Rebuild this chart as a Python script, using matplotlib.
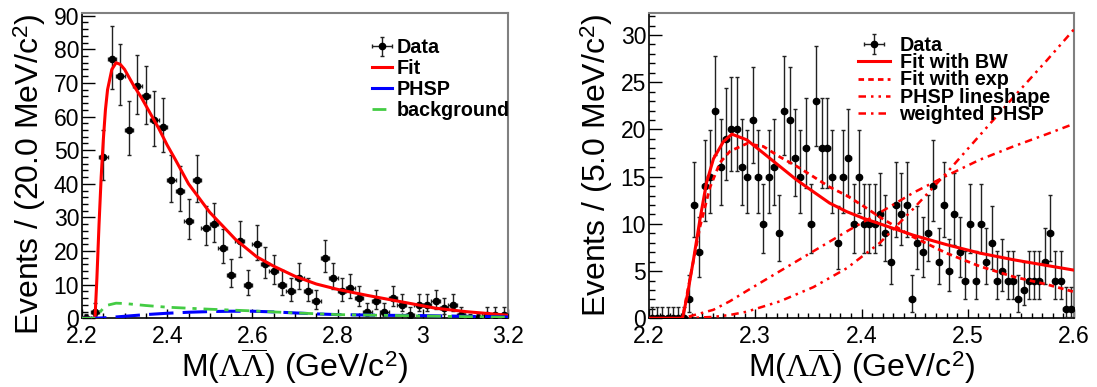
import math
import numpy as np
import matplotlib
matplotlib.use("Agg")
import matplotlib.pyplot as plt
from matplotlib.ticker import MultipleLocator, FuncFormatter

plt.rcParams['font.family'] = ['Liberation Sans', 'DejaVu Sans']
plt.rcParams['mathtext.fontset'] = 'custom'
plt.rcParams['mathtext.rm'] = 'Liberation Serif'
plt.rcParams['mathtext.sf'] = 'Liberation Sans'
plt.rcParams['mathtext.it'] = 'Liberation Serif:italic'

# ---------------- data: left panel (20 MeV bins, 2.2 - 3.2) ----------------
left_edges = (2.2, 3.2)
left_counts = [0, 2, 48, 77, 72, 56, 69, 66, 59, 57,
               41, 38, 29, 41, 27, 28, 21, 13, 23, 10,
               22, 16, 14, 10, 8, 12, 8, 5, 18, 12,
               8, 9, 6, 2, 5, 2, 6, 4, 1, 4,
               4, 5, 3, 4, 1, 0, 0, 1, 1, 1]

fit_x = [2.2, 2.2305, 2.235, 2.24, 2.245, 2.25, 2.255, 2.26, 2.27, 2.28, 2.29, 2.30,
         2.32, 2.34, 2.36, 2.38, 2.40, 2.42, 2.45, 2.50, 2.53, 2.56, 2.61, 2.65,
         2.70, 2.75, 2.80, 2.87, 2.95, 3.03, 3.10, 3.2]
fit_y = [0, 0, 12, 28, 42, 53, 62, 68, 74, 76, 75.5, 74,
         69.5, 65.5, 61, 56.5, 51.5, 47, 40, 31.5, 27.5, 23.5, 18.3, 15.5,
         12.5, 10.2, 8.6, 6.8, 4.9, 3.0, 2.0, 0.9]

bkg_x = [2.2, 2.231, 2.24, 2.25, 2.26, 2.28, 2.30, 2.35, 2.40, 2.50, 2.60, 2.70,
         2.80, 2.90, 3.0, 3.1, 3.2]
bkg_y = [0, 0, 1.5, 3.0, 3.9, 4.5, 4.4, 3.8, 3.3, 2.7, 2.2, 1.6,
         1.1, 0.9, 0.7, 0.5, 0.3]

phsp_x = [2.2, 2.231, 2.26, 2.30, 2.35, 2.40, 2.45, 2.50, 2.55, 2.60, 2.65, 2.70,
          2.75, 2.80, 2.90, 3.0, 3.1, 3.2]
phsp_y = [0, 0, 0.2, 0.6, 1.1, 1.5, 1.8, 2.0, 2.1, 2.1, 1.9, 1.6,
          1.3, 1.1, 0.9, 0.8, 0.6, 0.4]

# ---------------- data: right panel (5 MeV bins, 2.2 - 2.6) ----------------
right_edges = (2.2, 2.6)
right_counts = [0, 0, 0, 0, 0, 0, 0, 2, 12, 7,
                14, 15, 22, 16, 19, 20, 20, 16, 15, 21,
                15, 10, 15, 16, 9, 22, 21, 17, 15, 18,
                10, 23, 18, 18, 15, 8, 15, 17, 10, 15,
                10, 10, 10, 11, 9, 6, 12, 11, 12, 2,
                8, 7, 9, 14, 6, 12, 5, 11, 7, 4,
                10, 4, 10, 6, 8, 4, 5, 4, 4, 2,
                3, 4, 4, 4, 6, 9, 4, 4, 1, 1]

bw_x = [2.2, 2.2315, 2.236, 2.242, 2.248, 2.254, 2.2607, 2.27, 2.278, 2.292, 2.3076,
        2.323, 2.339, 2.3547, 2.370, 2.386, 2.4016, 2.4174, 2.4488, 2.480, 2.5115,
        2.543, 2.574, 2.6]
bw_y = [0, 0, 2.4, 6.3, 10.5, 14.3, 16.9, 18.7, 19.5, 18.9, 17.5,
        16.1, 14.65, 13.4, 12.2, 11.3, 10.6, 10.0, 8.8, 7.8, 6.9,
        6.2, 5.6, 5.1]

exp_x = [2.2, 2.2315, 2.2355, 2.248, 2.2575, 2.2669, 2.2763, 2.292, 2.3076, 2.323,
         2.339, 2.3547, 2.370, 2.386, 2.4016, 2.4174, 2.4488, 2.480, 2.5115, 2.543,
         2.574, 2.6]
exp_y = [0, 0, 2.4, 9.7, 13.9, 16.5, 17.7, 18.5, 18.2, 17.1,
         16.1, 15.0, 13.9, 13.0, 11.9, 10.7, 8.6, 6.9, 5.5, 4.4,
         3.6, 2.8]

ls_x = [2.2, 2.2315, 2.2606, 2.276, 2.292, 2.3233, 2.3547, 2.3861, 2.4174, 2.4488,
        2.4801, 2.5115, 2.5429, 2.5743, 2.6]
ls_y = [0, 0, 0.15, 0.35, 0.7, 1.8, 3.3, 5.3, 8.0, 11.6,
        15.4, 19.4, 23.4, 27.3, 30.6]

wp_x = [2.2, 2.2315, 2.2606, 2.276, 2.292, 2.3233, 2.3547, 2.3861, 2.4174, 2.4488,
        2.4801, 2.5115, 2.5429, 2.5743, 2.6]
wp_y = [0, 0, 0.9, 1.8, 2.9, 5.0, 7.1, 9.2, 11.2, 13.3,
        15.1, 16.8, 18.2, 19.5, 20.6]


def pois_cdf(k, lam):
    if k < 0:
        return 0.0
    term = math.exp(-lam)
    s = term
    for i in range(1, k + 1):
        term *= lam / i
        s += term
    return s


def solve(f, target, lo, hi, decreasing=True):
    for _ in range(100):
        mid = 0.5 * (lo + hi)
        v = f(mid)
        if (v > target) == decreasing:
            lo = mid
        else:
            hi = mid
    return 0.5 * (lo + hi)


def poisson_errors(counts):
    a = 0.158655
    lo, hi = [], []
    for n in counts:
        if n == 0:
            lo.append(0.0)
            hi.append(1.148)
            continue
        up = solve(lambda l: pois_cdf(n, l), a, 0, n + 20 + 5 * math.sqrt(n))
        dn = solve(lambda l: pois_cdf(n - 1, l), 1 - a, 0, n + 5)
        lo.append(n - dn)
        hi.append(up - n)
    return [lo, hi]


fig = plt.figure(figsize=(10.97, 3.87), dpi=100)
W, H = 1097.0, 387.0
axL = fig.add_axes([82 / W, (H - 318.3) / H, 426 / W, 305 / H])
axR = fig.add_axes([649 / W, (H - 318.3) / H, 425 / W, 305 / H])

fmt = FuncFormatter(lambda v, p: f"{v:g}")


def style(ax, xmaj, xmin, ymaj, ymin):
    ax.xaxis.set_major_locator(MultipleLocator(xmaj))
    ax.xaxis.set_minor_locator(MultipleLocator(xmin))
    ax.yaxis.set_major_locator(MultipleLocator(ymaj))
    ax.yaxis.set_minor_locator(MultipleLocator(ymin))
    ax.xaxis.set_major_formatter(fmt)
    ax.yaxis.set_major_formatter(fmt)
    ax.tick_params(direction='in', top=False, right=False, which='both', width=1, labelsize=16.5)
    ax.tick_params(axis='y', which='major', length=9.2, pad=2)
    ax.tick_params(axis='y', which='minor', length=4.6)
    ax.tick_params(axis='x', which='major', length=6.6, pad=5)
    ax.tick_params(axis='x', which='minor', length=3.3)
    for s in ('top', 'right'):
        ax.spines[s].set_color('#808080')
        ax.spines[s].set_linewidth(1.5)
    for s in ('left', 'bottom'):
        ax.spines[s].set_color('black')
        ax.spines[s].set_linewidth(1.2)


def draw_hist(ax, counts, rng):
    n = len(counts)
    w = (rng[1] - rng[0]) / n
    centers = rng[0] + w * (np.arange(n) + 0.5)
    err = poisson_errors(counts)
    return ax.errorbar(centers, counts, yerr=err, xerr=w / 2, fmt='o', ms=4.5,
                       color='black', ecolor='#222222', elinewidth=1.0,
                       capsize=1.5, capthick=1.0, zorder=3)


xlabel = r'M($\Lambda\overline{\Lambda}$) (GeV/c$^{\mathsf{2}}$)'
xlab_y = (318.3 - 346.5) / 305.0

# ---- left ----
hL = draw_hist(axL, left_counts, left_edges)
lf, = axL.plot(fit_x, fit_y, color='#ff0000', lw=2.2, zorder=4)
lp, = axL.plot(phsp_x, phsp_y, color='#0000ff', lw=2.2, ls=(0, (8, 3)), zorder=4)
lb, = axL.plot(bkg_x, bkg_y, color='#44cc44', lw=2.0, ls=(0, (5, 2.5, 1.5, 2.5)), zorder=4)
axL.set_xlim(*left_edges)
axL.set_ylim(0, 90.7)
style(axL, 0.2, 0.05, 10, 2)
axL.set_xlabel(xlabel, fontsize=23)
axL.xaxis.set_label_coords(0.5, xlab_y)
axL.set_ylabel(r'Events / (20.0 MeV/c$^{\mathsf{2}}$)', fontsize=23, loc='top')
lp_leg, = axL.plot([], [], color='#0000ff', lw=2.2)
axL.legend([hL, lf, lp_leg, lb], ['Data', 'Fit', 'PHSP', 'background'],
           loc='upper left', bbox_to_anchor=(0.681, 0.918), frameon=False,
           borderpad=0, borderaxespad=0, handlelength=1.0, handletextpad=0.25,
           labelspacing=0.1, prop={'weight': 'bold', 'size': 14.2})

# ---- right ----
hR = draw_hist(axR, right_counts, right_edges)
rb, = axR.plot(bw_x, bw_y, color='#ff0000', lw=2.2, zorder=4)
re, = axR.plot(exp_x, exp_y, color='#ff0000', lw=2.0, ls=(0, (2, 1.5)), zorder=4)
rl, = axR.plot(ls_x, ls_y, color='#ff0000', lw=1.8, ls=(0, (3, 2, 1, 2, 1, 2)), zorder=4)
rw, = axR.plot(wp_x, wp_y, color='#ff0000', lw=1.8, ls=(0, (3, 2, 1, 2)), zorder=4)
axR.set_xlim(*right_edges)
axR.set_ylim(0, 32.3)
style(axR, 0.1, 0.01, 5, 1)
axR.set_xlabel(xlabel, fontsize=23)
axR.xaxis.set_label_coords(0.5, xlab_y)
axR.set_ylabel(r'Events / (5.0 MeV/c$^{\mathsf{2}}$)', fontsize=23, loc='top')
axR.legend([hR, rb, re, rl, rw],
           ['Data', 'Fit with BW', 'Fit with exp', 'PHSP lineshape', 'weighted PHSP'],
           loc='upper left', bbox_to_anchor=(0.492, 0.927), frameon=False,
           borderpad=0, borderaxespad=0, handlelength=1.6, handletextpad=0.5,
           labelspacing=-0.08, prop={'weight': 'bold', 'size': 14.2})

fig.savefig('out.png', dpi=100)
